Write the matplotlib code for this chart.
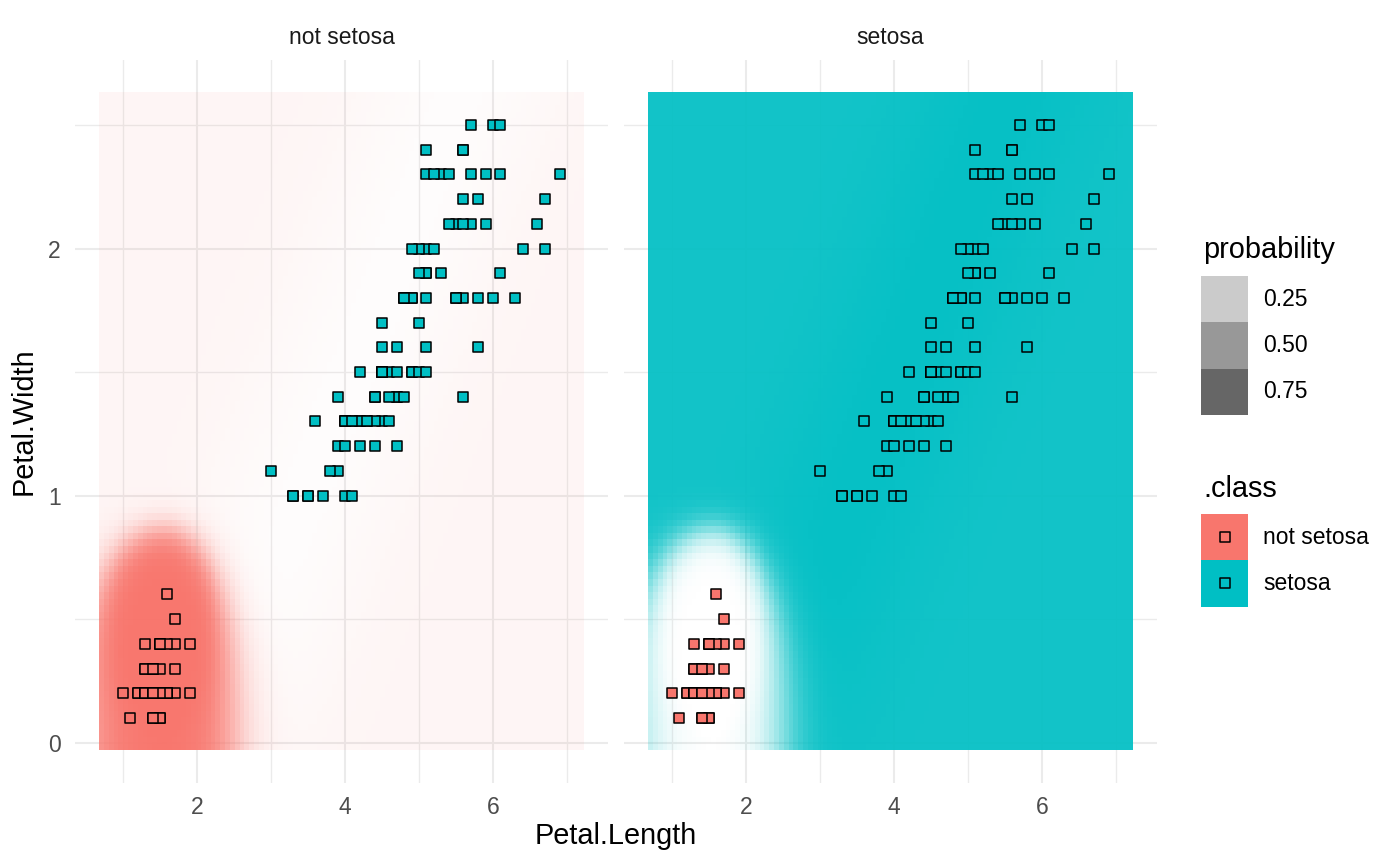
import numpy as np
import matplotlib
matplotlib.use("Agg")
import matplotlib.pyplot as plt
from matplotlib.patches import Rectangle

plt.rcParams['font.family'] = ['Liberation Sans', 'DejaVu Sans']

# iris petal measurements (the points in both panels)
petal_length = [1.4, 1.4, 1.3, 1.5, 1.4, 1.7, 1.4, 1.5, 1.4, 1.5, 1.5, 1.6, 1.4, 1.1, 1.2,
                1.5, 1.3, 1.4, 1.7, 1.5, 1.7, 1.5, 1.0, 1.7, 1.9, 1.6, 1.6, 1.5, 1.4, 1.6,
                1.6, 1.5, 1.5, 1.4, 1.5, 1.2, 1.3, 1.4, 1.3, 1.5, 1.3, 1.3, 1.3, 1.6, 1.9,
                1.4, 1.6, 1.4, 1.5, 1.4,
                4.7, 4.5, 4.9, 4.0, 4.6, 4.5, 4.7, 3.3, 4.6, 3.9, 3.5, 4.2, 4.0, 4.7, 3.6,
                4.4, 4.5, 4.1, 4.5, 3.9, 4.8, 4.0, 4.9, 4.7, 4.3, 4.4, 4.8, 5.0, 4.5, 3.5,
                3.8, 3.7, 3.9, 5.1, 4.5, 4.5, 4.7, 4.4, 4.1, 4.0, 4.4, 4.6, 4.0, 3.3, 4.2,
                4.2, 4.2, 4.3, 3.0, 4.1,
                6.0, 5.1, 5.9, 5.6, 5.8, 6.6, 4.5, 6.3, 5.8, 6.1, 5.1, 5.3, 5.5, 5.0, 5.1,
                5.3, 5.5, 6.7, 6.9, 5.0, 5.7, 4.9, 6.7, 4.9, 5.7, 6.0, 4.8, 4.9, 5.6, 5.8,
                6.1, 6.4, 5.6, 5.1, 5.6, 6.1, 5.6, 5.5, 4.8, 5.4, 5.6, 5.1, 5.1, 5.9, 5.7,
                5.2, 5.0, 5.2, 5.4, 5.1]
petal_width = [0.2, 0.2, 0.2, 0.2, 0.2, 0.4, 0.3, 0.2, 0.2, 0.1, 0.2, 0.2, 0.1, 0.1, 0.2,
               0.4, 0.4, 0.3, 0.3, 0.3, 0.2, 0.4, 0.2, 0.5, 0.2, 0.2, 0.4, 0.2, 0.2, 0.2,
               0.2, 0.4, 0.1, 0.2, 0.2, 0.2, 0.2, 0.1, 0.2, 0.2, 0.3, 0.3, 0.2, 0.6, 0.4,
               0.3, 0.2, 0.2, 0.2, 0.2,
               1.4, 1.5, 1.5, 1.3, 1.5, 1.3, 1.6, 1.0, 1.3, 1.4, 1.0, 1.5, 1.0, 1.4, 1.3,
               1.4, 1.5, 1.0, 1.5, 1.1, 1.8, 1.3, 1.5, 1.2, 1.3, 1.4, 1.4, 1.7, 1.5, 1.0,
               1.1, 1.0, 1.2, 1.6, 1.5, 1.6, 1.5, 1.3, 1.3, 1.3, 1.2, 1.4, 1.2, 1.0, 1.3,
               1.2, 1.3, 1.3, 1.1, 1.3,
               2.5, 1.9, 2.1, 1.8, 2.2, 2.1, 1.7, 1.8, 1.8, 2.5, 2.0, 1.9, 2.1, 2.0, 2.4,
               2.3, 1.8, 2.2, 2.3, 1.5, 2.3, 2.0, 2.0, 1.8, 2.1, 1.8, 1.8, 1.8, 2.1, 1.6,
               1.9, 2.0, 2.2, 1.5, 1.4, 2.3, 2.4, 1.8, 1.8, 2.1, 2.4, 2.3, 1.9, 2.3, 2.5,
               2.3, 1.9, 2.0, 2.3, 1.8]

classes = ["not setosa", "setosa"]
class_colors = ["#F8766D", "#00BFC4"]
prob_breaks = [0.25, 0.50, 0.75]

x_major = [2, 4, 6]
x_minor = [1, 3, 5, 7]
y_major = [0, 1, 2]
y_minor = [0.5, 1.5, 2.5]

# predicted class: the small-petal group came out as "not setosa"
predicted = ["not setosa" if pl < 2.5 else "setosa" for pl in petal_length]

# raster of the prediction grid
raster_x = (0.676, 7.23)
raster_y = (-0.03, 2.63)
n_cells = 100


def prob_not_setosa(x, y):
    """rough fit of the classifier's probability surface"""
    dx = np.where(x < 1.55, (x - 1.55) / 1.1, (x - 1.55) / 0.95)
    dy = np.abs(y) / 0.86
    r = np.sqrt(dx ** 2 + dy ** 3)
    wy = dy ** 2 / (dx ** 2 + dy ** 2 + 1e-9)
    k = 5.2 * (1 - wy) + 15.0 * wy        # softer sides, sharper top
    blob = 1 / (1 + np.exp(-k * (1 - r)))
    # slightly whiter band along the big-petal cloud
    band = x - (3.2 + (y - 0.8) / 0.78)
    base = 0.07 - 0.05 * np.exp(-0.5 * (band / 0.9) ** 2)
    return base + (1 - base) * blob


W, H = 1400, 866
fig = plt.figure(figsize=(W / 100, H / 100), dpi=100)

step_x = (raster_x[1] - raster_x[0]) / n_cells
step_y = (raster_y[1] - raster_y[0]) / n_cells
gx = raster_x[0] + step_x * (np.arange(n_cells) + 0.5)
gy = raster_y[0] + step_y * (np.arange(n_cells) + 0.5)
GX, GY = np.meshgrid(gx, gy)
p_not = prob_not_setosa(GX, GY)
probs = {"not setosa": p_not, "setosa": 1 - p_not}

pad_x = 0.05 * (raster_x[1] - raster_x[0])
pad_y = 0.05 * (raster_y[1] - raster_y[0])
panel_left = [74.7, 623.7]
panel_w = 533.5

pl = np.array(petal_length)
pw = np.array(petal_width)
pred = np.array(predicted)

for i, facet in enumerate(classes):
    ax = fig.add_axes([panel_left[i] / W, 1 - 783 / H, panel_w / W, 723 / H])
    rgba = np.zeros((n_cells, n_cells, 4))
    rgba[..., :3] = matplotlib.colors.to_rgb(class_colors[i])
    rgba[..., 3] = np.clip(probs[facet], 0, 1)
    ax.imshow(rgba, extent=(raster_x[0], raster_x[1], raster_y[0], raster_y[1]),
              origin='lower', aspect='auto', interpolation='nearest', zorder=1)
    for c, col in zip(classes, class_colors):
        m = pred == c
        ax.scatter(pl[m], pw[m], marker='s', s=47, facecolor=col, edgecolor='black',
                   linewidths=1.1, zorder=3)
    ax.set_xlim(raster_x[0] - pad_x, raster_x[1] + pad_x)
    ax.set_ylim(raster_y[0] - pad_y, raster_y[1] + pad_y)
    ax.set_xticks(x_major)
    ax.set_xticks(x_minor, minor=True)
    ax.set_yticks(y_major)
    ax.set_yticks(y_minor, minor=True)
    ax.set_axisbelow(True)
    ax.grid(which='major', color='#EBEBEB', linewidth=1.5)
    ax.grid(which='minor', color='#EBEBEB', linewidth=1.0)
    for s in ax.spines.values():
        s.set_visible(False)
    ax.tick_params(which='both', length=0, labelsize=16.5, labelcolor='#4D4D4D')
    ax.tick_params(axis='x', pad=9.5)
    ax.tick_params(axis='y', pad=10)
    if i > 0:
        ax.tick_params(axis='y', labelleft=False)
    ax.text(0.5, 1 + 22 / 723, facet, transform=ax.transAxes, ha='center', va='center',
            fontsize=16.5, color='#1A1A1A')

fig.text(616 / W, 1 - 836 / H, "Petal.Length", ha='center', va='center', fontsize=20.8)
fig.text(24 / W, 1 - 421 / H, "Petal.Width", ha='center', va='center', rotation=90,
         fontsize=20.8)

# legends, drawn in pixel coordinates
leg = fig.add_axes([0, 0, 1, 1])
leg.set_xlim(0, W)
leg.set_ylim(H, 0)
leg.axis('off')

leg.text(1203, 258, "probability", fontsize=20.8, va='baseline')
key_h = 46.3
for j, b in enumerate(prob_breaks):
    top = 276 + j * key_h
    leg.add_patch(Rectangle((1201, top), 47, key_h, facecolor='#333333', alpha=b,
                            edgecolor='none'))
    leg.text(1263, top + key_h / 2, f"{b:.2f}", fontsize=16.5, va='center')

leg.text(1203, 497, ".class", fontsize=20.8, va='baseline')
for j, (c, col) in enumerate(zip(classes, class_colors)):
    top = 514 + j * key_h
    leg.add_patch(Rectangle((1201, top), 47, key_h, facecolor=col, edgecolor='none'))
    leg.scatter([1224.5], [top + key_h / 2], marker='s', s=47, facecolor=col,
                edgecolor='black', linewidths=1.1)
    leg.text(1263, top + key_h / 2, c, fontsize=16.5, va='center')

fig.savefig("out.png", dpi=100)
